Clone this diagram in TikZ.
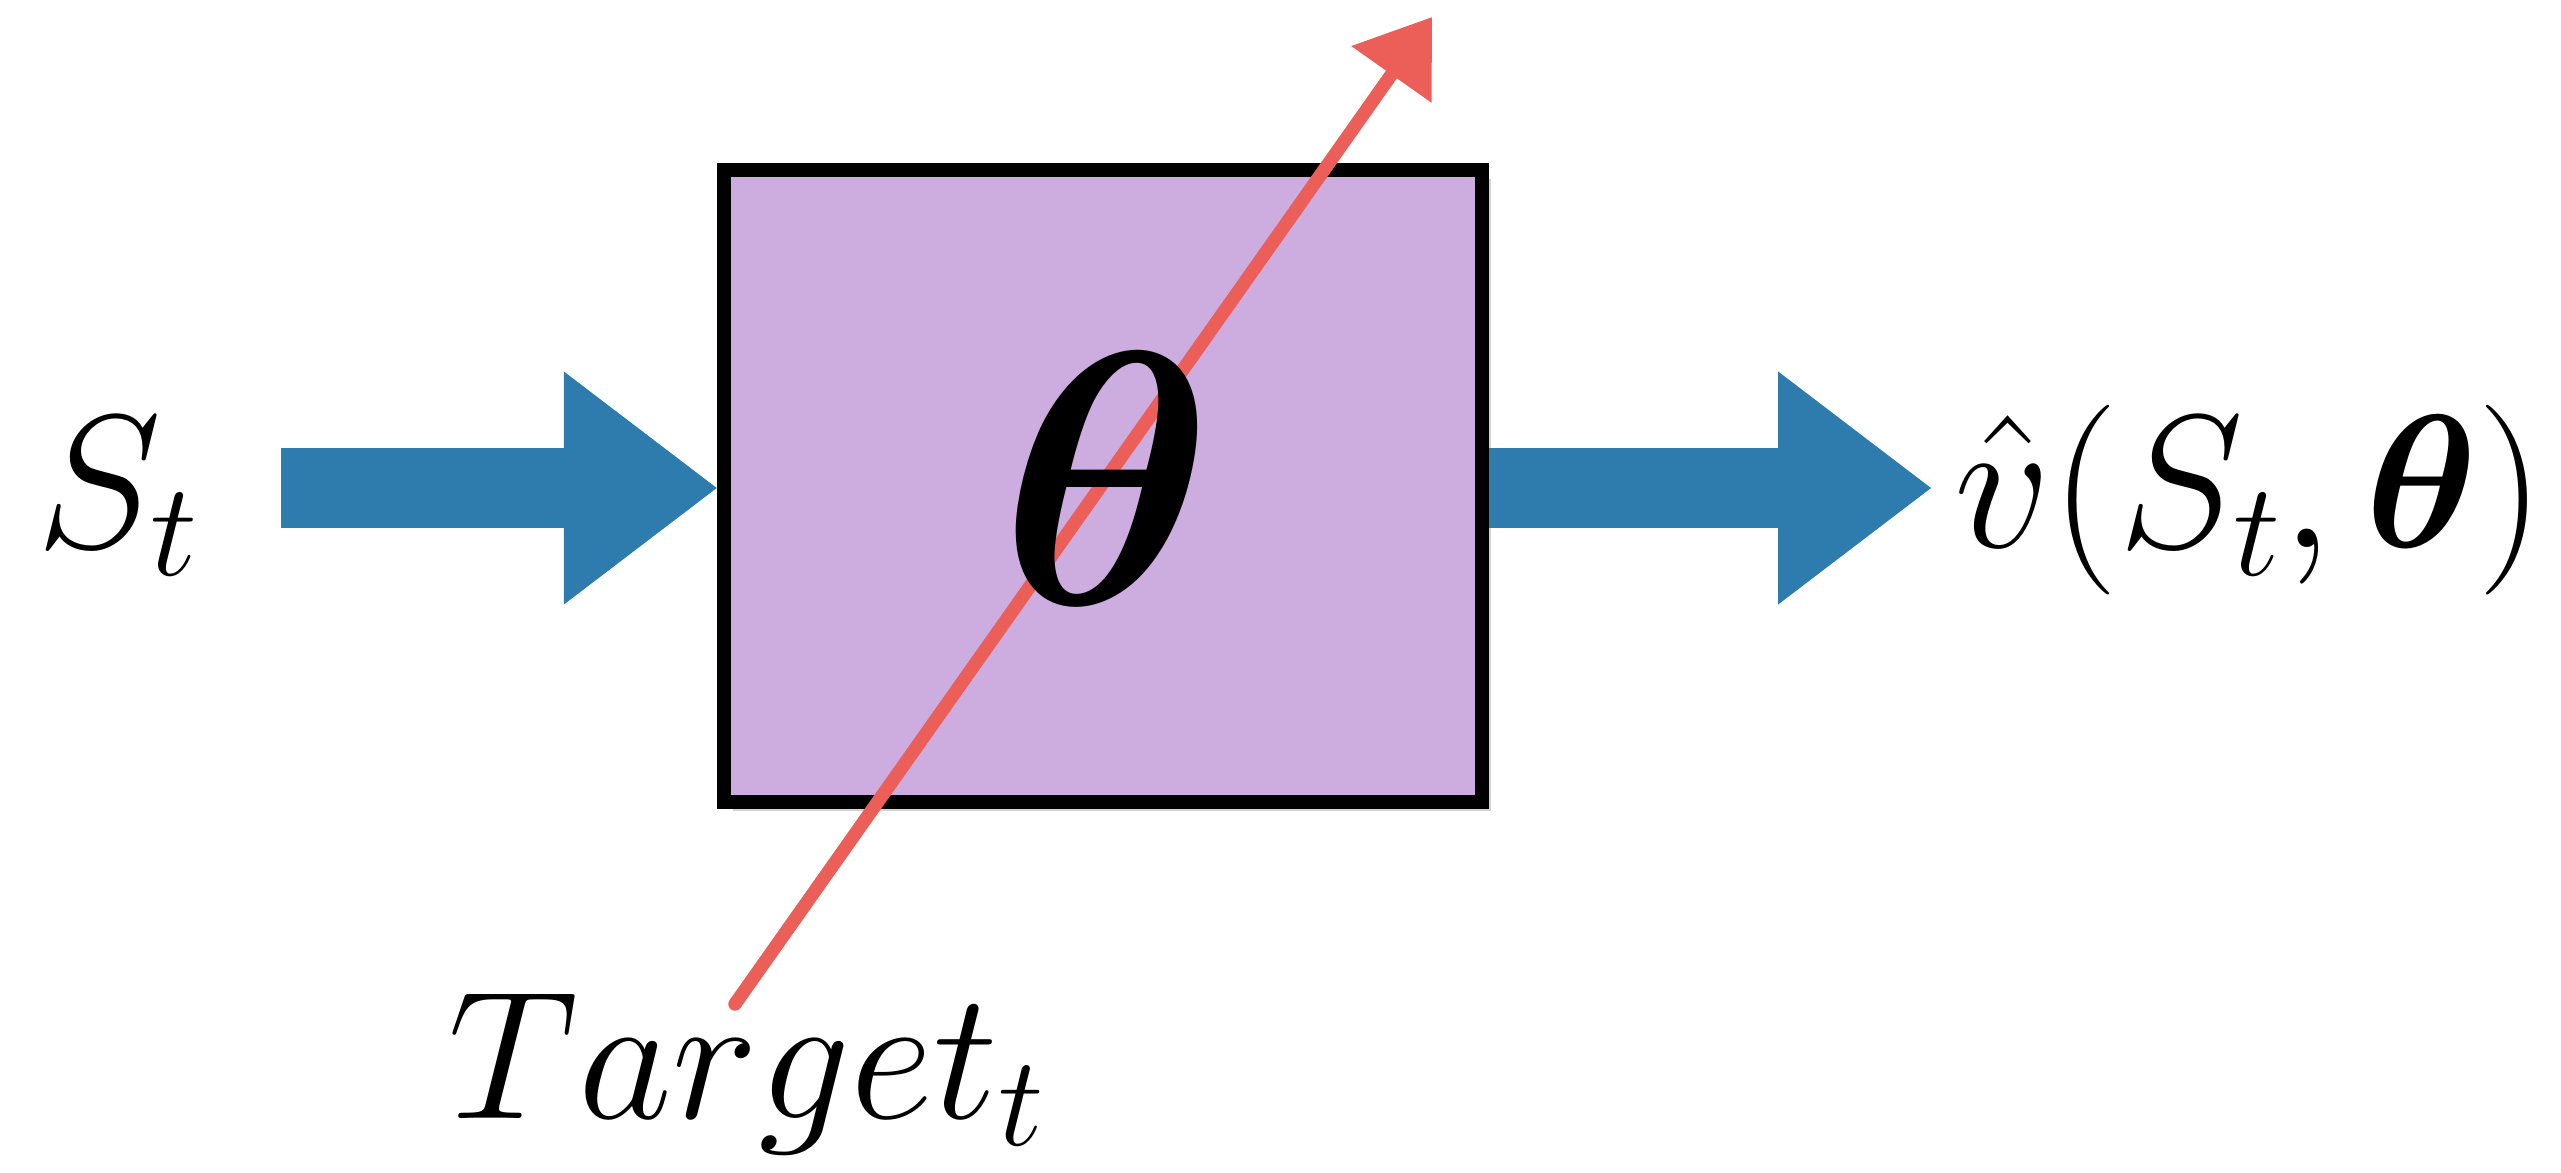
\RequirePackage{fix-cm}
\documentclass[tikz,border=0pt]{standalone}
\usepackage{amsmath,bm}
\usetikzlibrary{arrows.meta,shadows}
\definecolor{boxPurple}{HTML}{CDACE0}
\definecolor{flowBlue}{HTML}{2E7BAD}
\definecolor{chalkRed}{HTML}{EC5F59}

\begin{document}
\begin{tikzpicture}[
  x=0.01cm,y=-0.01cm,
  lbl/.style={inner sep=0pt,anchor=base,font=\fontsize{54}{64}\selectfont},
  net/.style={draw=black,line width=4pt,fill=boxPurple,minimum width=7.58cm,minimum height=6.32cm,
    drop shadow={shadow xshift=2.5pt,shadow yshift=-2.5pt,opacity=0.35}},
  fat/.style={draw=flowBlue,line width=23pt,-{Triangle[length=43.5pt,width=66.3pt,line width=0pt]}},
  chalk/.style={draw=chalkRed,line width=3.8pt,line cap=round,-{Triangle[length=20pt,width=27pt]}}]
  \useasboundingbox (0,0) rectangle (2561,1172);
  \node[net] (box) at (1103,486) {};
  \node[lbl] (st) at (118,547) {$S_t$};
  \node[lbl] (vhat) at (2250,547) {$\hat{v}(S_t,\bm{\theta})$};
  \node[lbl,font=\fontsize{52}{62}\selectfont] (tgt) at (747,1118) {$Target_t$};
  \coordinate (intail) at (281,488);
  \coordinate (outtip) at (1931,488);
  \coordinate (pull) at (735,1004);
  \coordinate (pulltip) at (1432,17);
  \draw[fat] (intail) -- (intail -| box.west);
  \draw[fat] (box.east |- outtip) -- (outtip);
  % update signal goes under the weights
  \draw[chalk] (pull) -- (pulltip);
  \node[inner sep=0pt,font=\fontsize{103}{110}\selectfont] (theta) at (1107,479) {$\bm{\theta}$};
\end{tikzpicture}
\end{document}
